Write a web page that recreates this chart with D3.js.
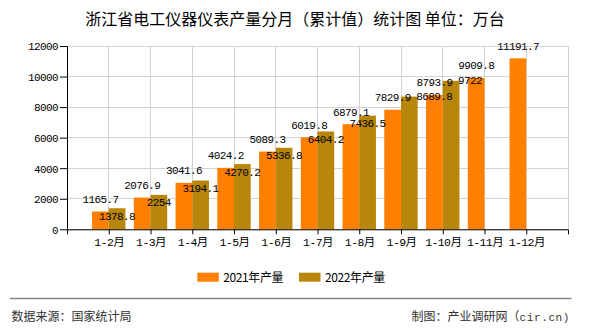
<!DOCTYPE html>
<html>
<head>
<meta charset="utf-8">
<script src="https://cdn.jsdelivr.net/npm/d3@7/dist/d3.min.js"></script>
<style>
  html, body { margin: 0; padding: 0; background: #fff; }
  svg { display: block; }
  .mono { font-family: "Liberation Mono", "Noto Sans CJK SC", monospace; font-size: 11px; letter-spacing: -0.6px; fill: #000; }
</style>
</head>
<body>
<svg id="chart" width="590" height="330"></svg>
<script>
// ---- data ----
const categories = ['1-2月', '1-3月', '1-4月', '1-5月', '1-6月', '1-7月', '1-8月', '1-9月', '1-10月', '1-11月', '1-12月'];
const values2021 = [1165.7, 2076.9, 3041.6, 4024.2, 5089.3, 6019.8, 6879.1, 7829.9, 8793.9, 9909.8, 11191.7];
const values2022 = [1378.8, 2254, 3194.1, 4270.2, 5336.8, 6404.2, 7436.5, 8689.8, 9722, null, null];
const seriesNames = ['2021年产量', '2022年产量'];
const yTicks = [0, 2000, 4000, 6000, 8000, 10000, 12000];
const titleText = '浙江省电工仪器仪表产量分月（累计值）统计图 单位：万台';
const sourceText = '数据来源：国家统计局';
const creditText = ['制图：产业调研网', '（', 'cir.cn)'];

// ---- layout / style ----
const colors = ['#FF8000', '#B8860B'];
const plot = { left: 67, right: 568, top: 46, bottom: 229.3 };
// label displacement seen in the original for a couple of 2022 labels
const label2022Nudge = { '1-9月': [25, -8], '1-10月': [19, -8] };

const svg = d3.select('#chart');

const x = d3.scalePoint().domain(categories).range([plot.left, plot.right]).padding(1);
const y = d3.scaleLinear().domain([0, 12000]).range([plot.bottom, plot.top]);
const bw = x.step() * 0.4;

// title
svg.append('text')
  .attr('x', 295).attr('y', 24.5)
  .attr('text-anchor', 'middle')
  .style('font-family', '"Noto Sans CJK SC", sans-serif')
  .style('font-size', '16px')
  .style('font-weight', '400')
  .style('fill', '#000')
  .text(titleText);

// grid
const grid = svg.append('g').attr('stroke', '#d3d3d3').attr('stroke-width', 1).attr('shape-rendering', 'crispEdges');
grid.selectAll('line.h').data(yTicks).join('line')
  .attr('x1', plot.left).attr('x2', plot.right)
  .attr('y1', d => y(d)).attr('y2', d => y(d));
grid.selectAll('line.v').data(categories.concat([null])).join('line')
  .attr('x1', d => d === null ? plot.right : x(d))
  .attr('x2', d => d === null ? plot.right : x(d))
  .attr('y1', plot.top).attr('y2', plot.bottom);

// bars
const seriesData = [values2021, values2022];
seriesData.forEach((vals, si) => {
  svg.append('g').selectAll('rect')
    .data(categories.map((c, i) => ({ c, v: vals[i] })).filter(d => d.v != null))
    .join('rect')
    .attr('x', d => si === 0 ? x(d.c) - bw : x(d.c))
    .attr('width', bw)
    .attr('y', d => y(d.v))
    .attr('height', d => y(0) - y(d.v))
    .attr('fill', colors[si]);
});

// axes
const yAxis = svg.append('g')
  .attr('transform', `translate(${plot.left},0)`)
  .call(d3.axisLeft(y).tickValues(yTicks).tickSize(7).tickSizeOuter(0).tickPadding(2).tickFormat(d3.format('d')));
const xAxis = svg.append('g')
  .attr('transform', `translate(0,${plot.bottom})`)
  .call(d3.axisBottom(x).tickSize(5).tickSizeOuter(5).tickPadding(4));
[yAxis, xAxis].forEach(g => {
  g.selectAll('path, line').attr('stroke', '#000').attr('stroke-width', 1);
  g.selectAll('text').attr('class', 'mono').attr('fill', '#000');
});
yAxis.selectAll('text').attr('dy', '0.35em');
xAxis.selectAll('text').style('font-size', '11.5px');

// value labels
svg.append('g').selectAll('text')
  .data(categories.map((c, i) => ({ c, v: values2021[i] })))
  .join('text')
  .attr('class', 'mono')
  .attr('text-anchor', 'middle')
  .attr('x', d => x(d.c) - bw / 2)
  .attr('y', d => y(d.v) - 8.5)
  .text(d => d.v);

svg.append('g').selectAll('text')
  .data(categories.map((c, i) => ({ c, v: values2022[i] })).filter(d => d.v != null))
  .join('text')
  .attr('class', 'mono')
  .attr('text-anchor', 'middle')
  .attr('x', d => x(d.c) + bw / 2 + (label2022Nudge[d.c] ? label2022Nudge[d.c][0] : 0))
  .attr('y', d => y(d.v) + 11.5 + (label2022Nudge[d.c] ? label2022Nudge[d.c][1] : 0))
  .text(d => d.v);

// legend
const legendX = [197.3, 299];
seriesNames.forEach((name, i) => {
  svg.append('rect')
    .attr('x', legendX[i]).attr('y', 272.7)
    .attr('width', 21.5).attr('height', 9)
    .attr('fill', colors[i]);
  svg.append('text')
    .attr('x', legendX[i] + 26).attr('y', 281.5)
    .style('font-family', '"Noto Sans CJK SC", sans-serif')
    .style('font-size', '12px')
    .style('letter-spacing', '-0.4px')
    .style('fill', '#000')
    .text(name);
});

// footer
svg.append('line')
  .attr('x1', 10).attr('x2', 571.5)
  .attr('y1', 298.5).attr('y2', 298.5)
  .attr('stroke', '#888').attr('stroke-width', 1.5);
svg.append('text')
  .attr('x', 11.5).attr('y', 321)
  .style('font-family', '"Noto Sans CJK SC", sans-serif')
  .style('font-size', '12px')
  .style('fill', '#333')
  .text(sourceText);
const credit = svg.append('text')
  .attr('x', 570).attr('y', 321)
  .attr('text-anchor', 'end')
  .style('font-family', '"Noto Sans CJK SC", sans-serif')
  .style('font-size', '12px')
  .style('fill', '#333');
credit.append('tspan').text(creditText[0]);
credit.append('tspan').text(creditText[1]);
credit.append('tspan')
  .style('font-family', '"Liberation Mono", monospace')
  .style('font-size', '11px')
  .style('letter-spacing', '0.6px')
  .text(creditText[2]);
</script>
</body>
</html>
